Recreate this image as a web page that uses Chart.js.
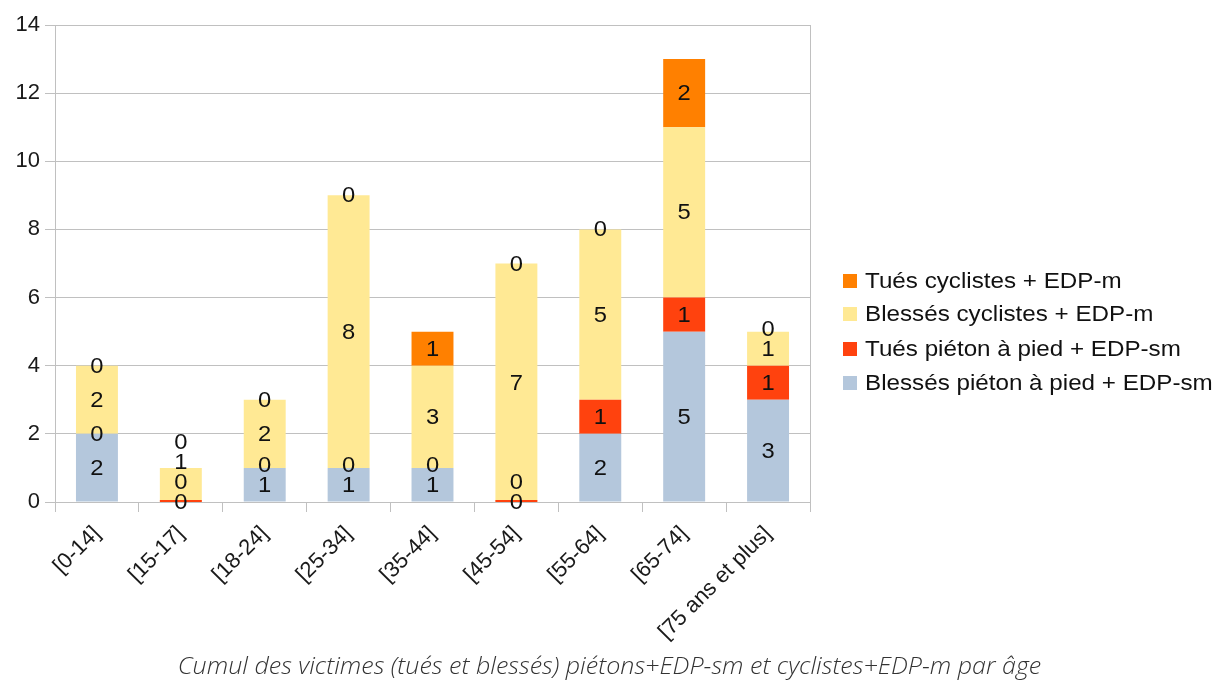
<!DOCTYPE html>
<html>
<head>
<meta charset="utf-8">
<script src="https://cdn.jsdelivr.net/npm/chart.js@4/dist/chart.umd.min.js"></script>
<style>
  html, body { margin: 0; padding: 0; background: #fff; }
  #wrap { position: relative; width: 1218px; height: 680px; }
  #caption { position: absolute; left: 0; width: 1218px; top: 649px; text-align: center;
    font-family: "Open Sans", "Lato", sans-serif; font-style: italic; font-weight: 300;
    font-size: 23px; color: #333; transform: scaleX(1.09); transform-origin: 604px 50%; white-space: nowrap; }
</style>
</head>
<body>
<div id="wrap">
  <canvas id="c" width="1218" height="680"></canvas>
  <div id="caption">Cumul des victimes (tués et blessés) piétons+EDP-sm et cyclistes+EDP-m par âge</div>
</div>
<script>
const categories = ["[0-14]", "[15-17]", "[18-24]", "[25-34]", "[35-44]", "[45-54]", "[55-64]", "[65-74]", "[75 ans et plus]"];
const blessesPieton = [2, 0, 1, 1, 1, 0, 2, 5, 3];
const tuesPieton    = [0, 0, 0, 0, 0, 0, 1, 1, 1];
const blessesCycl   = [2, 1, 2, 8, 3, 7, 5, 5, 1];
const tuesCycl      = [0, 0, 0, 0, 1, 0, 0, 2, 0];
const seriesNames = ["Blessés piéton à pied + EDP-sm", "Tués piéton à pied + EDP-sm", "Blessés cyclistes + EDP-m", "Tués cyclistes + EDP-m"];
const seriesColors = ["#b4c7dc", "#ff420e", "#ffe994", "#ff8000"];
const yTicks = [0, 2, 4, 6, 8, 10, 12, 14];

const FONT = '"Liberation Sans", Arial, sans-serif';

function stretchedText(ctx, text, x, y, sx) {
  ctx.save();
  ctx.translate(x, y);
  ctx.scale(sx, 1);
  ctx.fillText(text, 0, 0);
  ctx.restore();
}

const labelPlugin = {
  id: 'segLabels',
  afterDatasetsDraw(chart) {
    const ctx = chart.ctx;
    const a = chart.chartArea;
    ctx.save();
    // zero-height segments lying on the baseline appear as a thin coloured line
    const n = chart.data.labels.length;
    for (let i = 0; i < n; i++) {
      chart.data.datasets.forEach((ds, di) => {
        const el = chart.getDatasetMeta(di).data[i];
        if (ds.data[i] === 0 && Math.abs(el.base - a.bottom) < 1 && di > 0) {
          ctx.fillStyle = ds.backgroundColor;
          ctx.fillRect(el.x - el.width / 2, a.bottom - 2, el.width, 2);
        }
      });
    }
    ctx.font = '22px ' + FONT;
    ctx.fillStyle = '#111';
    ctx.textAlign = 'center';
    ctx.textBaseline = 'middle';
    for (let i = 0; i < n; i++) {
      let last = Infinity;
      chart.data.datasets.forEach((ds, di) => {
        const el = chart.getDatasetMeta(di).data[i];
        let yc = (el.y + el.base) / 2;
        if (yc > last - 20) yc = last - 20;
        last = yc;
        stretchedText(ctx, String(ds.data[i]), el.x, yc + 1, 1.08);
      });
    }
    ctx.restore();
  }
};

const framePlugin = {
  id: 'frameAndLegend',
  afterDraw(chart) {
    const ctx = chart.ctx;
    const a = chart.chartArea;
    ctx.save();
    ctx.strokeStyle = '#c0c0c0';
    ctx.lineWidth = 1;
    ctx.beginPath();
    ctx.moveTo(Math.round(a.right) + 0.5, a.top);
    ctx.lineTo(Math.round(a.right) + 0.5, a.bottom);
    ctx.stroke();
    // legend
    const ds = chart.data.datasets;
    const rows = [281, 314, 349, 383];
    ctx.font = '22px ' + FONT;
    ctx.textBaseline = 'middle';
    ctx.textAlign = 'left';
    for (let k = 0; k < ds.length; k++) {
      const d = ds[ds.length - 1 - k];
      const y = rows[k];
      ctx.fillStyle = d.backgroundColor;
      ctx.fillRect(843, y - 7, 14, 14);
      ctx.fillStyle = '#111';
      stretchedText(ctx, d.label, 865, y + 1, 1.1);
    }
    ctx.restore();
  }
};

const seriesData = [blessesPieton, tuesPieton, blessesCycl, tuesCycl];

new Chart(document.getElementById('c'), {
  type: 'bar',
  data: {
    labels: categories,
    datasets: seriesData.map((d, i) => ({
      label: seriesNames[i],
      data: d,
      backgroundColor: seriesColors[i],
      borderWidth: 0,
      barPercentage: 0.5,
      categoryPercentage: 1.0
    }))
  },
  options: {
    responsive: false,
    animation: false,
    layout: { padding: { top: 25, right: 408, left: 0, bottom: 0 } },
    plugins: { legend: { display: false }, tooltip: { enabled: false } },
    scales: {
      x: {
        stacked: true,
        afterFit(s) { s.height = 178; },
        grid: { drawOnChartArea: false, drawTicks: true, tickLength: 10, color: '#c0c0c0', offset: true },
        border: { display: true, color: '#c0c0c0' },
        ticks: { minRotation: 45, maxRotation: 45, padding: 9, color: '#1a1a1a', font: { family: FONT, size: 22 }, autoSkip: false }
      },
      y: {
        stacked: true,
        min: 0, max: 14,
        afterFit(s) { s.width = 55; },
        afterBuildTicks(s) { s.ticks = yTicks.map(v => ({ value: v })); },
        grid: { color: '#c0c0c0', tickLength: 10, lineWidth: 1 },
        border: { display: true, color: '#c0c0c0' },
        ticks: { padding: 5, color: '#1a1a1a', font: { family: FONT, size: 22 } }
      }
    }
  },
  plugins: [labelPlugin, framePlugin]
});
</script>
</body>
</html>
